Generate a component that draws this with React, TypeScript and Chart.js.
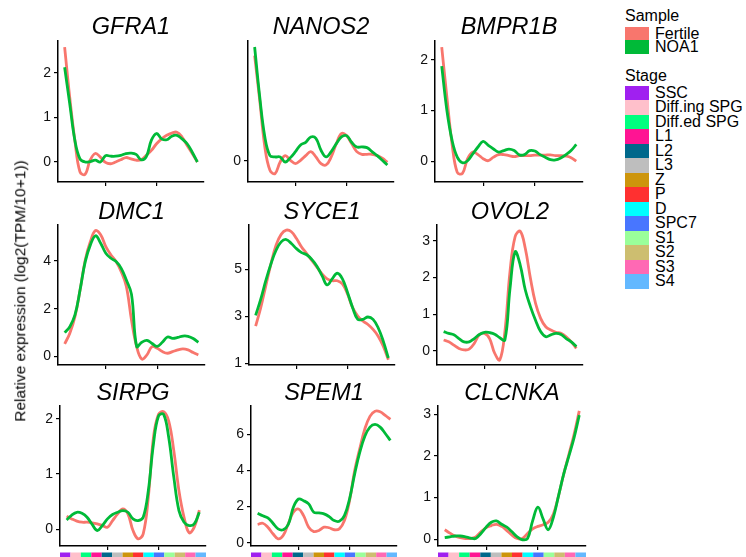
import React, { useEffect, useRef } from "react";
import { Chart, registerables } from "chart.js";

Chart.register(...registerables);

const FONT = "'Liberation Sans', Arial, Helvetica, sans-serif";

// ---------- data ----------
const stages = ["SSC", "Diff.ing SPG", "Diff.ed SPG", "L1", "L2", "L3", "Z", "P", "D", "SPC7", "S1", "S2", "S3", "S4"];
const stageColors = ["#A020F0", "#FFC0CB", "#00FF7F", "#FF1493", "#00688B", "#BEBEBE", "#CD950C", "#FF3030", "#00FFFF", "#4876FF", "#9AFF9A", "#CDBE70", "#FF69B4", "#63B8FF"];
const samples = ["Fertile", "NOA1"];
const sampleColors = ["#F8766D", "#00BA38"];

// stage positions (stage index, sampled every half stage)
const xPositions = [1, 1.5, 2, 2.5, 3, 3.5, 4, 4.5, 5, 5.5, 6, 6.5, 7, 7.5, 8, 8.5, 9, 9.5, 10, 10.5, 11, 11.5, 12, 12.5, 13, 13.5, 14];
const xTicks = [5, 10];
const xRange = [0.35, 14.65];

const genes = ["GFRA1", "NANOS2", "BMPR1B", "DMC1", "SYCE1", "OVOL2", "SIRPG", "SPEM1", "CLCNKA"];

const gfra1Fertile = [2.58, 1.45, 0.49, -0.22, -0.28, 0.04, 0.19, 0.11, -0.01, -0.04, 0, 0.05, 0.1, 0.07, 0.04, 0.05, 0.15, 0.26, 0.41, 0.52, 0.6, 0.65, 0.67, 0.56, 0.37, 0.19, 0];
const gfra1Noa1 = [2.13, 1.31, 0.49, 0.07, 0.0, 0.01, 0.04, 0.0, 0.14, 0.13, 0.13, 0.15, 0.19, 0.2, 0.17, 0.05, 0.12, 0.49, 0.64, 0.52, 0.5, 0.58, 0.6, 0.52, 0.41, 0.22, 0.0];
const nanos2Fertile = [0.79, 0.455, 0.105, -0.07, -0.095, -0.008, 0.04, 0.005, -0.02, 0.005, 0.04, 0.07, 0.03, -0.02, -0.03, 0.03, 0.13, 0.205, 0.19, 0.13, 0.07, 0.05, 0.05, 0.05, 0.04, 0.02, -0.01];
const nanos2Noa1 = [0.855, 0.48, 0.18, 0.04, 0.03, 0.03, -0.008, 0.025, 0.07, 0.12, 0.14, 0.18, 0.17, 0.08, 0.03, 0.07, 0.13, 0.18, 0.19, 0.14, 0.105, 0.105, 0.1, 0.07, 0.04, 0.005, -0.03];
const bmpr1bFertile = [2.25, 1.26, 0.34, -0.22, -0.24, 0.05, 0.18, 0.13, 0.05, 0.01, 0.08, 0.13, 0.13, 0.11, 0.09, 0.11, 0.11, 0.11, 0.12, 0.12, 0.12, 0.125, 0.11, 0.11, 0.1, 0.07, 0.0];
const bmpr1bNoa1 = [1.875, 1.0, 0.41, 0.08, -0.03, 0.01, 0.145, 0.28, 0.39, 0.31, 0.24, 0.18, 0.21, 0.24, 0.21, 0.125, 0.13, 0.21, 0.2, 0.13, 0.08, 0.03, 0.026, 0.065, 0.13, 0.21, 0.33];
const dmc1Fertile = [0.53, 0.98, 1.67, 2.79, 4.04, 4.81, 5.27, 5.09, 4.6, 4.25, 3.97, 3.55, 2.93, 1.53, 0.42, -0.1, 0.07, 0.42, 0.35, 0.21, 0.14, 0.21, 0.28, 0.32, 0.28, 0.17, 0.07];
const dmc1Noa1 = [1.0, 1.25, 1.74, 2.79, 3.97, 4.67, 5.05, 4.74, 4.32, 4.11, 3.97, 3.69, 3.2, 2.6, 0.42, 0.6, 0.68, 0.55, 0.43, 0.6, 0.82, 0.76, 0.8, 0.86, 0.85, 0.76, 0.6];
const syce1Fertile = [2.58, 3.37, 4.31, 5.24, 6.04, 6.5, 6.68, 6.61, 6.32, 5.96, 5.68, 5.39, 5.1, 4.81, 4.6, 4.52, 4.52, 4.38, 3.95, 3.37, 3.01, 2.8, 2.65, 2.44, 2.15, 1.72, 1.14];
const syce1Noa1 = [3.04, 3.73, 4.53, 5.24, 5.82, 6.18, 6.28, 6.11, 5.89, 5.72, 5.63, 5.43, 5.14, 4.74, 4.34, 4.6, 4.84, 4.6, 4.02, 3.37, 2.87, 2.87, 2.97, 2.87, 2.51, 1.94, 1.22];
const ovol2Fertile = [0.3, 0.25, 0.16, 0.07, 0.03, 0.05, 0.21, 0.44, 0.48, 0.34, -0.06, -0.24, 0.53, 2.16, 3.11, 3.26, 2.79, 1.98, 1.3, 0.89, 0.66, 0.57, 0.51, 0.48, 0.39, 0.25, 0.07];
const ovol2Noa1 = [0.53, 0.48, 0.44, 0.34, 0.25, 0.25, 0.34, 0.45, 0.51, 0.5, 0.46, 0.36, 0.3, 1.7, 2.7, 2.34, 1.66, 1.21, 0.84, 0.53, 0.39, 0.44, 0.48, 0.45, 0.34, 0.25, 0.12];
const sirpgFertile = [0.24, 0.19, 0.15, 0.13, 0.13, 0.12, 0.1, 0.07, 0.04, 0.16, 0.28, 0.37, 0.28, -0.02, -0.17, -0.08, 0.58, 1.66, 2.08, 2.13, 1.96, 1.42, 0.7, 0.22, -0.06, 0.04, 0.35];
const sirpgNoa1 = [0.17, 0.26, 0.31, 0.29, 0.22, 0.09, -0.02, 0.07, 0.19, 0.27, 0.31, 0.34, 0.31, 0.19, 0.16, 0.22, 0.7, 1.54, 2.05, 2.08, 1.66, 0.94, 0.34, 0.13, 0.07, 0.1, 0.31];
const spem1Fertile = [1.01, 1.08, 0.86, 0.5, 0.22, 0.4, 1.05, 1.69, 1.87, 1.5, 0.86, 0.62, 0.68, 0.86, 0.83, 0.72, 0.77, 1.23, 2.33, 3.98, 5.2, 6.3, 7.0, 7.28, 7.25, 7.05, 6.83];
const spem1Noa1 = [1.63, 1.49, 1.38, 1.08, 0.77, 0.72, 1.01, 1.96, 2.42, 2.33, 2.15, 1.69, 1.65, 1.6, 1.45, 1.23, 1.19, 1.5, 2.42, 3.8, 5.0, 5.9, 6.4, 6.55, 6.4, 6.05, 5.67];
const clcnkaFertile = [0.23, 0.15, 0.08, 0.04, 0.02, 0.02, 0.06, 0.18, 0.28, 0.33, 0.36, 0.31, 0.21, 0.1, 0.02, 0.02, 0.14, 0.25, 0.31, 0.35, 0.41, 0.61, 1.05, 1.57, 2.04, 2.52, 3.08];
const clcnkaNoa1 = [0.04, 0.06, 0.08, 0.08, 0.06, 0.03, 0.02, 0.14, 0.29, 0.41, 0.44, 0.36, 0.29, 0.18, 0.06, -0.01, 0.02, 0.45, 0.77, 0.49, 0.23, 0.53, 1.05, 1.57, 2.0, 2.44, 2.98];

const fertileSeries = [gfra1Fertile, nanos2Fertile, bmpr1bFertile, dmc1Fertile, syce1Fertile, ovol2Fertile, sirpgFertile, spem1Fertile, clcnkaFertile];
const noa1Series = [gfra1Noa1, nanos2Noa1, bmpr1bNoa1, dmc1Noa1, syce1Noa1, ovol2Noa1, sirpgNoa1, spem1Noa1, clcnkaNoa1];

// y tick labels per panel
const yTickValues = [[0, 1, 2], [0], [0, 1, 2], [0, 2, 4], [1, 3, 5], [0, 1, 2, 3], [0, 1, 2], [0, 2, 4, 6], [0, 1, 2, 3]];
// y axis limits per panel
const yMins = [-0.45, -0.158, -0.41, -0.35, 0.92, -0.38, -0.3, -0.18, -0.16];
const yMaxs = [2.72, 0.9, 2.37, 5.5, 6.9, 3.43, 2.24, 7.6, 3.21];

const yAxisTitle = "Relative expression (log2(TPM/10+1))";

// ---------- layout (positions only) ----------
const rows = [
  { top: 41, bottom: 182, mid: 27.5 },
  { top: 225, bottom: 365, mid: 213 },
  { top: 405, bottom: 546, mid: 394 },
];
const cols = [
  [{ L: 58, R: 204 }, { L: 248, R: 394 }, { L: 435, R: 583 }],
  [{ L: 58, R: 205 }, { L: 249, R: 395 }, { L: 437, R: 583 }],
  [{ L: 60, R: 206 }, { L: 251, R: 397 }, { L: 438, R: 586 }],
];
const YW = 40;
const XH = 14;
const TITLE_SIZE = 23.5;

const stageBarPlugin = {
  id: "stageBar",
  afterDraw(chart: any) {
    const s = chart.scales.stage;
    const { ctx, chartArea } = chart;
    const top = chartArea.bottom + 6.5;
    const h = chart.height - top;
    ctx.save();
    stageColors.forEach((c, i) => {
      const x0 = s.getPixelForValue(i);
      const x1 = s.getPixelForValue(i + 1);
      ctx.fillStyle = c;
      ctx.fillRect(x0, top, x1 - x0, h);
    });
    ctx.restore();
  },
};

function Panel({ idx }: { idx: number }) {
  const ref = useRef<HTMLCanvasElement | null>(null);
  const r = Math.floor(idx / 3);
  const c = idx % 3;
  const row = rows[r];
  const col = cols[r][c];
  const canvasLeft = col.L - YW;
  const canvasTop = Math.round(row.mid - TITLE_SIZE / 2);
  const padB = Math.max(0, row.top - canvasTop - TITLE_SIZE);
  const width = YW + (col.R - col.L) + 4;
  const height = row.bottom - canvasTop + XH;

  useEffect(() => {
    if (!ref.current) return;
    const ticks = yTickValues[idx];
    const mk = (arr: number[]) => xPositions.map((x, i) => ({ x, y: arr[i] }));
    const chart = new Chart(ref.current, {
      type: "line",
      data: {
        datasets: [
          { label: samples[0], data: mk(fertileSeries[idx]), order: 1, borderColor: sampleColors[0], backgroundColor: sampleColors[0], borderWidth: 2.8, pointRadius: 0, tension: 0.4, fill: false },
          { label: samples[1], data: mk(noa1Series[idx]), order: 0, borderColor: sampleColors[1], backgroundColor: sampleColors[1], borderWidth: 2.8, pointRadius: 0, tension: 0.4, fill: false },
        ],
      },
      options: {
        animation: false,
        responsive: false,
        maintainAspectRatio: false,
        events: [],
        layout: { padding: { left: 0, right: 4, top: 0, bottom: 0 } },
        plugins: {
          legend: { display: false },
          tooltip: { enabled: false },
          title: {
            display: true,
            text: genes[idx],
            fullSize: false,
            color: "#000",
            font: { family: FONT, size: TITLE_SIZE, style: "italic", weight: "normal", lineHeight: 1 },
            padding: { top: 0, bottom: padB },
          },
        },
        scales: {
          x: {
            type: "linear",
            min: xRange[0],
            max: xRange[1],
            afterBuildTicks: (s: any) => { s.ticks = xTicks.map((v) => ({ value: v })); },
            afterFit: (s: any) => { s.height = XH; },
            ticks: { display: false },
            grid: { display: true, drawOnChartArea: false, drawTicks: true, tickLength: 4, color: "#000", lineWidth: 1.2 },
            border: { display: true, color: "#000", width: 1.5 },
          },
          y: {
            type: "linear",
            min: yMins[idx],
            max: yMaxs[idx],
            afterBuildTicks: (s: any) => { s.ticks = ticks.map((v) => ({ value: v })); },
            afterFit: (s: any) => { s.width = YW; },
            ticks: { color: "#111", padding: 3, font: { family: FONT, size: 14 }, callback: (v: any) => String(v) },
            grid: { display: true, drawOnChartArea: false, drawTicks: true, tickLength: 4, color: "#000", lineWidth: 1.2 },
            border: { display: true, color: "#000", width: 1.5 },
          },
          stage: { type: "linear", axis: "x", display: false, min: 0, max: stages.length },
        },
      } as any,
      plugins: r === 2 ? [stageBarPlugin] : [],
    });
    return () => chart.destroy();
  }, [idx]);

  return (
    <canvas
      ref={ref}
      width={width}
      height={height}
      style={{ position: "absolute", left: canvasLeft, top: canvasTop, width, height, display: "block" }}
    />
  );
}

function LegendRow({ color, label, top, h }: { color: string; label: string; top: number; h: number }) {
  return (
    <div style={{ position: "absolute", left: 625, top, height: h, display: "flex", alignItems: "center" }}>
      <div style={{ width: 24.3, height: h, background: color }} />
      <div style={{ marginLeft: 5.7, fontSize: 16, lineHeight: "16px", whiteSpace: "nowrap", color: "#000" }}>{label}</div>
    </div>
  );
}

export default function App() {
  return (
    <div style={{ position: "fixed", left: 0, top: 0, width: 746, height: 557, overflow: "hidden", background: "#fff", fontFamily: FONT }}>
      {genes.map((g, i) => <Panel key={g} idx={i} />)}
      <div
        style={{
          position: "absolute", left: 19.5, top: 291, transform: "translate(-50%, -50%) rotate(-90deg)",
          fontSize: 15.5, lineHeight: "15.5px", whiteSpace: "nowrap", color: "#000", fontWeight: "normal",
        }}
      >
        {yAxisTitle}
      </div>
      <div style={{ position: "absolute", left: 625, top: 8.2, fontSize: 16, lineHeight: "16px", color: "#000" }}>Sample</div>
      {samples.map((s, i) => (
        <LegendRow key={s} color={sampleColors[i]} label={s} top={27 + i * 13.3} h={13.3} />
      ))}
      <div style={{ position: "absolute", left: 625, top: 68.2, fontSize: 16, lineHeight: "16px", color: "#000" }}>Stage</div>
      {stages.map((s, i) => (
        <LegendRow key={s} color={stageColors[i]} label={s} top={85.5 + i * 14.5} h={14.5} />
      ))}
    </div>
  );
}
